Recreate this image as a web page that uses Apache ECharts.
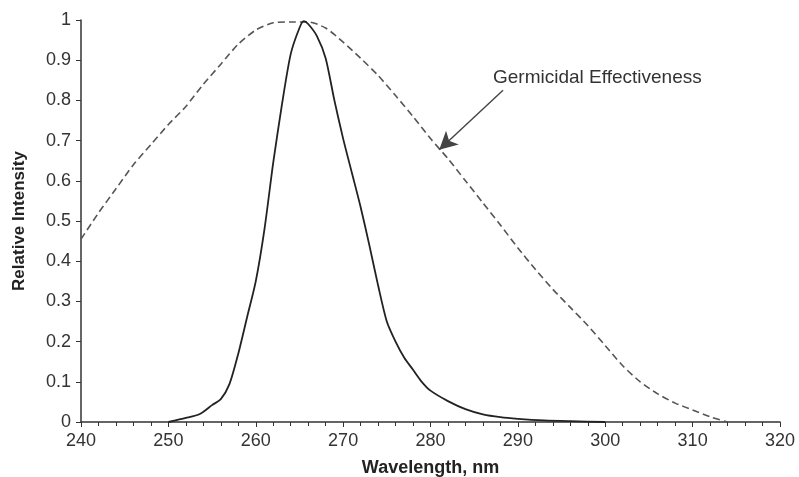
<!DOCTYPE html>
<html>
<head>
<meta charset="utf-8">
<script src="https://cdn.jsdelivr.net/npm/echarts@6/dist/echarts.min.js"></script>
<style>html,body{margin:0;padding:0;background:#fff}#c{width:799px;height:477px}</style>
</head>
<body>
<div id="c"></div>
<script>
// Lamp emission spectrum (solid)
const lampWavelength = [250, 252, 253.6, 255, 256, 257, 258, 259, 260, 261, 262, 263, 264, 265, 265.5, 266, 267, 268, 269, 270, 271, 272, 273, 274, 275, 276, 277, 278, 279, 280, 282, 284, 286, 288, 290, 293, 296, 300];
const lampIntensity  = [0, 0.01, 0.02, 0.042, 0.057, 0.095, 0.17, 0.26, 0.35, 0.48, 0.645, 0.79, 0.915, 0.98, 0.997, 0.99, 0.96, 0.905, 0.8, 0.705, 0.62, 0.535, 0.44, 0.34, 0.25, 0.2, 0.16, 0.13, 0.1, 0.078, 0.052, 0.032, 0.019, 0.012, 0.008, 0.004, 0.002, 0];
// Germicidal effectiveness curve (dashed)
const germWavelength = [240, 242, 244, 246, 248, 250, 252, 254, 256, 258, 260, 262, 264, 266, 268, 270, 272, 274, 276, 278, 280, 282, 284, 286, 288, 290, 292, 294, 296, 298, 300, 302, 304, 306, 308, 310, 312, 314];
const germEffect     = [0.455, 0.52, 0.58, 0.64, 0.69, 0.74, 0.785, 0.84, 0.89, 0.94, 0.975, 0.993, 0.995, 0.995, 0.98, 0.945, 0.905, 0.862, 0.812, 0.76, 0.705, 0.655, 0.60, 0.545, 0.49, 0.433, 0.38, 0.33, 0.285, 0.24, 0.19, 0.14, 0.10, 0.07, 0.047, 0.03, 0.013, 0];
// Annotation
const annotationText = 'Germicidal Effectiveness';
const arrowFrom = [288.3, 0.825];
const arrowTo = [281.0, 0.677];
// Axes
const xTicks = [240, 250, 260, 270, 280, 290, 300, 310, 320];
const yTicks = [0, 0.1, 0.2, 0.3, 0.4, 0.5, 0.6, 0.7, 0.8, 0.9, 1];

const FONT = '"Liberation Sans", Arial, sans-serif';
const chart = echarts.init(document.getElementById('c'), null, {renderer: 'canvas'});
const zip = (a, b) => a.map((v, i) => [v, b[i]]);

chart.setOption({
  animation: false,
  backgroundColor: '#fff',
  grid: {left: 81, right: 19, top: 20, bottom: 55, containLabel: false, outerBoundsMode: 'none'},
  xAxis: {
    type: 'value', min: xTicks[0], max: xTicks[xTicks.length - 1], interval: 10,
    name: 'Wavelength, nm', nameLocation: 'middle', nameGap: 37,
    nameTextStyle: {fontFamily: FONT, fontSize: 18, fontWeight: 'bold', color: '#222'},
    axisLine: {show: true, lineStyle: {color: '#333', width: 1.5}},
    axisTick: {show: true, inside: false, length: 5, lineStyle: {color: '#333', width: 1}},
    minorTick: {show: true, splitNumber: 5, length: 4, lineStyle: {color: '#333', width: 1}},
    axisLabel: {fontFamily: FONT, fontSize: 18, color: '#333', margin: 10},
    splitLine: {show: false}
  },
  yAxis: {
    type: 'value', min: 0, max: 1, interval: 0.1,
    name: 'Relative Intensity', nameLocation: 'middle', nameGap: 53, nameRotate: 90,
    nameTextStyle: {fontFamily: FONT, fontSize: 17, fontWeight: 'bold', color: '#222'},
    axisLine: {show: true, lineStyle: {color: '#333', width: 1.5}},
    axisTick: {show: true, inside: false, length: 5, lineStyle: {color: '#333', width: 1}},
    axisLabel: {fontFamily: FONT, fontSize: 18, color: '#333', margin: 10,
      formatter: v => String(Math.round(v * 10) / 10)},
    splitLine: {show: false}
  },
  series: [
    {
      type: 'line', name: 'Germicidal Effectiveness', data: zip(germWavelength, germEffect),
      showSymbol: false, smooth: 0.25,
      lineStyle: {color: '#555', width: 1.6, type: [7, 4]},
      markLine: {
        silent: true, symbol: ['none', 'arrow'], symbolSize: [14, 18],
        lineStyle: {color: '#444', width: 1.4, type: 'solid'},
        itemStyle: {color: '#111'},
        label: {show: false},
        data: [[{coord: arrowFrom}, {coord: arrowTo}]]
      },
      z: 2
    },
    {
      type: 'line', name: 'Lamp', data: zip(lampWavelength, lampIntensity),
      showSymbol: false, smooth: 0.25,
      lineStyle: {color: '#222', width: 1.8},
      z: 3
    }
  ],
  graphic: [{
    type: 'text', left: 493, top: 68,
    style: {text: annotationText, fontFamily: FONT, fontSize: 19, fill: '#333'}
  }]
});
</script>
</body>
</html>
